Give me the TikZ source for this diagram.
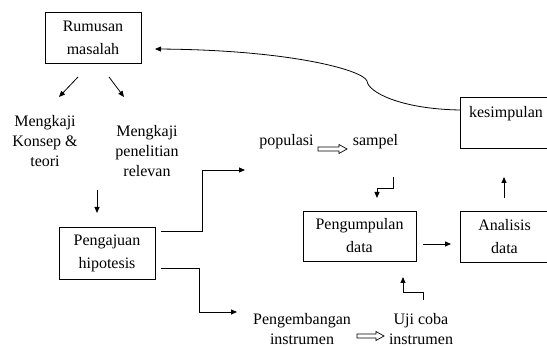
\documentclass[tikz,border=0pt]{standalone}
\usepackage{fontspec}
\setmainfont{Liberation Serif}
\usetikzlibrary{arrows.meta}
\tikzset{
  box/.style={draw, line width=0.8pt, align=center, inner sep=0pt, font=\rmfamily\fontsize{16}{23}\selectfont},
  lbl/.style={align=center, inner sep=0pt, font=\rmfamily\fontsize{16}{20}\selectfont},
  arr/.style={line width=0.8pt, -{Triangle[length=6pt,width=5pt]}},
  hollow/.style={line width=0.7pt, line join=miter},
}
\newcommand\hollowarr[3]{%
  \draw[hollow] (#1,#3-2) -- (#2-8,#3-2) -- (#2-8,#3-4.5) -- (#2,#3) -- (#2-8,#3+4.5) -- (#2-8,#3+2) -- (#1,#3+2) -- cycle;}
\begin{document}
\begin{tikzpicture}[x=1pt,y=-1pt]
\useasboundingbox (0,0) rectangle (547,347);
% boxes
\node[box, minimum width=96pt, minimum height=51pt] (rm) at (93,37.5) {Rumusan\\masalah};
\node[box, minimum width=96pt, minimum height=52pt] (pj) at (107,253) {Pengajuan\\hipotesis};
\node[box, minimum width=113pt, minimum height=50pt] (pd) at (359.5,236) {Pengumpulan\\data};
\node[box, minimum width=88pt, minimum height=51pt] (ad) at (504.5,236.5) {Analisis\\data};
\node[box, minimum width=88pt, minimum height=51pt] (ks) at (504.5,122.5) {};
\node[lbl, anchor=base] (kst) at (506,118) {kesimpulan};
% labels
\node[lbl] (mk1) at (45,141) {Mengkaji\\Konsep \&\\teori};
\node[lbl] (mk2) at (147,151) {Mengkaji\\penelitian\\relevan};
\node[lbl, anchor=base] (pop) at (286.5,146) {populasi};
\node[lbl, anchor=base] (sam) at (375.5,146) {sampel};
\node[lbl] (peng) at (302,329) {Pengembangan\\instrumen};
\node[lbl] (uji) at (421,329) {Uji coba\\instrumen};
% connector end points
\coordinate (a1) at (78,77);   \coordinate (b1) at (59,97);
\coordinate (a2) at (109,77);  \coordinate (b2) at (124,97);
\coordinate (a3) at (97,190);  \coordinate (b3) at (97,213);
\coordinate (a4) at (161,231); \coordinate (b4) at (245,170);
\coordinate (a5) at (161,268); \coordinate (b5) at (237,312);
\coordinate (a6) at (393,177); \coordinate (b6) at (377,198);
\coordinate (a7) at (423,244); \coordinate (b7) at (451,244);
\coordinate (a8) at (504,198); \coordinate (b8) at (504,177);
\coordinate (a9) at (423,300); \coordinate (b9) at (403,277);
\coordinate (c0) at (460,110); \coordinate (cm) at (367,81); \coordinate (c1) at (155,49);
% connectors
\draw[arr] (a1) -- (b1);
\draw[arr] (a2) -- (b2);
\draw[arr] (a3) -- (b3);
\draw[arr] (a4) -- (202,231) -- (202,170) -- (b4);
\draw[arr] (a5) -- (199,268) -- (199,312) -- (b5);
\draw[arr] (a6) -- (393,188) -- (377,188) -- (b6);
\draw[arr] (a7) -- (b7);
\draw[arr] (a8) -- (b8);
\draw[arr] (a9) -- (423,292) -- (403,292) -- (b9);
\draw[arr] (c0) .. controls (400,109) and (368,92) .. (cm) .. controls (363,70) and (290,50) .. (c1);
% hollow arrows
\hollowarr{318}{347}{149}
\hollowarr{357}{384}{336}
\end{tikzpicture}
\end{document}
